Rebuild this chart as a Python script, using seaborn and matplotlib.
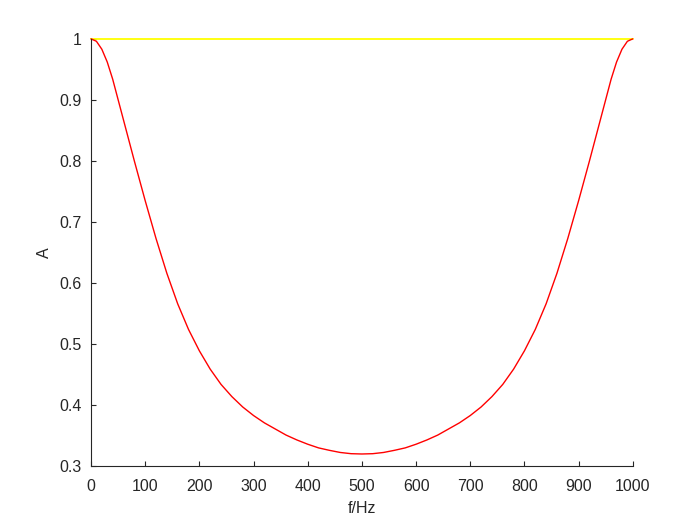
import numpy as np
import pandas as pd
import matplotlib
matplotlib.use("Agg")
import matplotlib.pyplot as plt
import seaborn as sns

# values
freq = [0, 10, 20, 30, 40, 60, 80, 100, 120, 140, 160, 180, 200, 220, 240, 260,
        280, 300, 320, 340, 360, 380, 400, 420, 440, 460, 480, 500,
        520, 540, 560, 580, 600, 620, 640, 660, 680, 700, 720, 740, 760, 780,
        800, 820, 840, 860, 880, 900, 920, 940, 960, 970, 980, 990, 1000]
amp = [1.000, 0.996, 0.983, 0.962, 0.934, 0.867, 0.800, 0.735, 0.673, 0.616,
       0.566, 0.524, 0.489, 0.459, 0.434, 0.414, 0.397, 0.383, 0.371, 0.361,
       0.351, 0.343, 0.336, 0.330, 0.326, 0.3225, 0.3205, 0.320,
       0.3205, 0.3225, 0.326, 0.330, 0.336, 0.343, 0.351, 0.361, 0.371, 0.383,
       0.397, 0.414, 0.434, 0.459, 0.489, 0.524, 0.566, 0.616, 0.673, 0.735,
       0.800, 0.867, 0.934, 0.962, 0.983, 0.996, 1.000]
ref_freq = [0, 1000]
ref_amp = [1.0, 1.0]

sns.set_style("white")
plt.rcParams["font.family"] = ["Liberation Sans", "DejaVu Sans"]
plt.rcParams["font.size"] = 11.5

fig = plt.figure(figsize=(7, 5.25), dpi=100)
ax = fig.add_axes([0.130, 0.112, 0.774, 0.814])

sns.lineplot(x=ref_freq, y=ref_amp, color="#FFFF00", linewidth=1.3, ax=ax, clip_on=False)
sns.lineplot(x=freq, y=amp, color="#FF0000", linewidth=1.0, ax=ax, clip_on=False)

ax.set_xlim(0, 1000)
ax.set_ylim(0.3, 1.0)
ax.set_xticks(np.arange(0, 1001, 100))
ax.set_yticks(np.round(np.arange(0.3, 1.01, 0.1), 1))
ax.set_yticklabels(["0.3", "0.4", "0.5", "0.6", "0.7", "0.8", "0.9", "1"])
ax.set_xlabel("f/Hz", color="#262626", labelpad=5)
ax.set_ylabel("A", color="#262626", labelpad=5)
ax.tick_params(direction="in", length=3.6, width=0.8, colors="#262626", labelsize=11.5,
               bottom=True, left=True)
ax.tick_params(axis="x", pad=9)
ax.tick_params(axis="y", pad=7)
for s in ["top", "right"]:
    ax.spines[s].set_visible(False)
for s in ["left", "bottom"]:
    ax.spines[s].set_color("#262626")
    ax.spines[s].set_linewidth(0.8)

fig.savefig("out.png", dpi=100)
